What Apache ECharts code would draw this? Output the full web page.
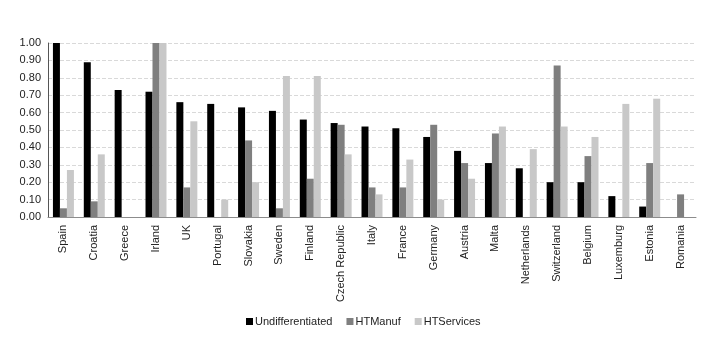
<!DOCTYPE html>
<html>
<head>
<meta charset="utf-8">
<script src="https://cdn.jsdelivr.net/npm/echarts@6/dist/echarts.min.js"></script>
<style>html,body{margin:0;padding:0;background:#fff;}#c{width:709px;height:339px;}</style>
</head>
<body>
<div id="c"></div>
<script>
const categories = ["Spain","Croatia","Greece","Irland","UK","Portugal","Slovakia","Sweden","Finland","Czech Republic","Italy","France","Germany","Austria","Malta","Netherlands","Switzerland","Belgium","Luxemburg","Estonia","Romania"];
const undifferentiated = [1.00,0.89,0.73,0.72,0.66,0.65,0.63,0.61,0.56,0.54,0.52,0.51,0.46,0.38,0.31,0.28,0.20,0.20,0.12,0.06,0];
const htManuf = [0.05,0.09,0,1.00,0.17,0,0.44,0.05,0.22,0.53,0.17,0.17,0.53,0.31,0.48,0,0.87,0.35,0,0.31,0.13];
const htServices = [0.27,0.36,0,1.00,0.55,0.10,0.20,0.81,0.81,0.36,0.13,0.33,0.10,0.22,0.52,0.39,0.52,0.46,0.65,0.68,0];
const seriesNames = ["Undifferentiated","HTManuf","HTServices"];
const colors = ["#000000","#7f7f7f","#c8c8c8"];

const chart = echarts.init(document.getElementById('c'), null, {renderer:'canvas'});
const font = 'Liberation Sans, Arial, sans-serif';
chart.setOption({
  animation:false,
  color: colors,
  textStyle:{fontFamily:font},
  grid:{left:48,right:13,top:43,bottom:122,containLabel:false},
  legend:{
    bottom:7,left:241,itemWidth:7,itemHeight:7,itemGap:14,
    icon:'rect',
    textStyle:{fontSize:11,color:'#222',fontFamily:font,padding:[0,0,0,-3]},
    data:seriesNames
  },
  xAxis:{
    type:'category',data:categories,
    axisLine:{lineStyle:{color:'#8c8c8c',width:1}},
    axisTick:{show:false},
    axisLabel:{rotate:90,fontSize:11,color:'#222',interval:0,margin:8,fontFamily:font}
  },
  yAxis:{
    type:'value',min:0,max:1,interval:0.1,
    axisLine:{show:true,lineStyle:{color:'#555',width:1}},
    axisTick:{show:false},
    splitLine:{lineStyle:{color:'#d9d9d9',type:'dashed'}},
    axisLabel:{fontSize:11,color:'#222',margin:7,fontFamily:font,formatter:v=>v.toFixed(2)}
  },
  series:[
    {name:seriesNames[0],type:'bar',data:undifferentiated,barGap:'0%',barCategoryGap:'32%'},
    {name:seriesNames[1],type:'bar',data:htManuf,barGap:'0%',barCategoryGap:'32%'},
    {name:seriesNames[2],type:'bar',data:htServices,barGap:'0%',barCategoryGap:'32%'}
  ]
});
</script>
</body>
</html>
